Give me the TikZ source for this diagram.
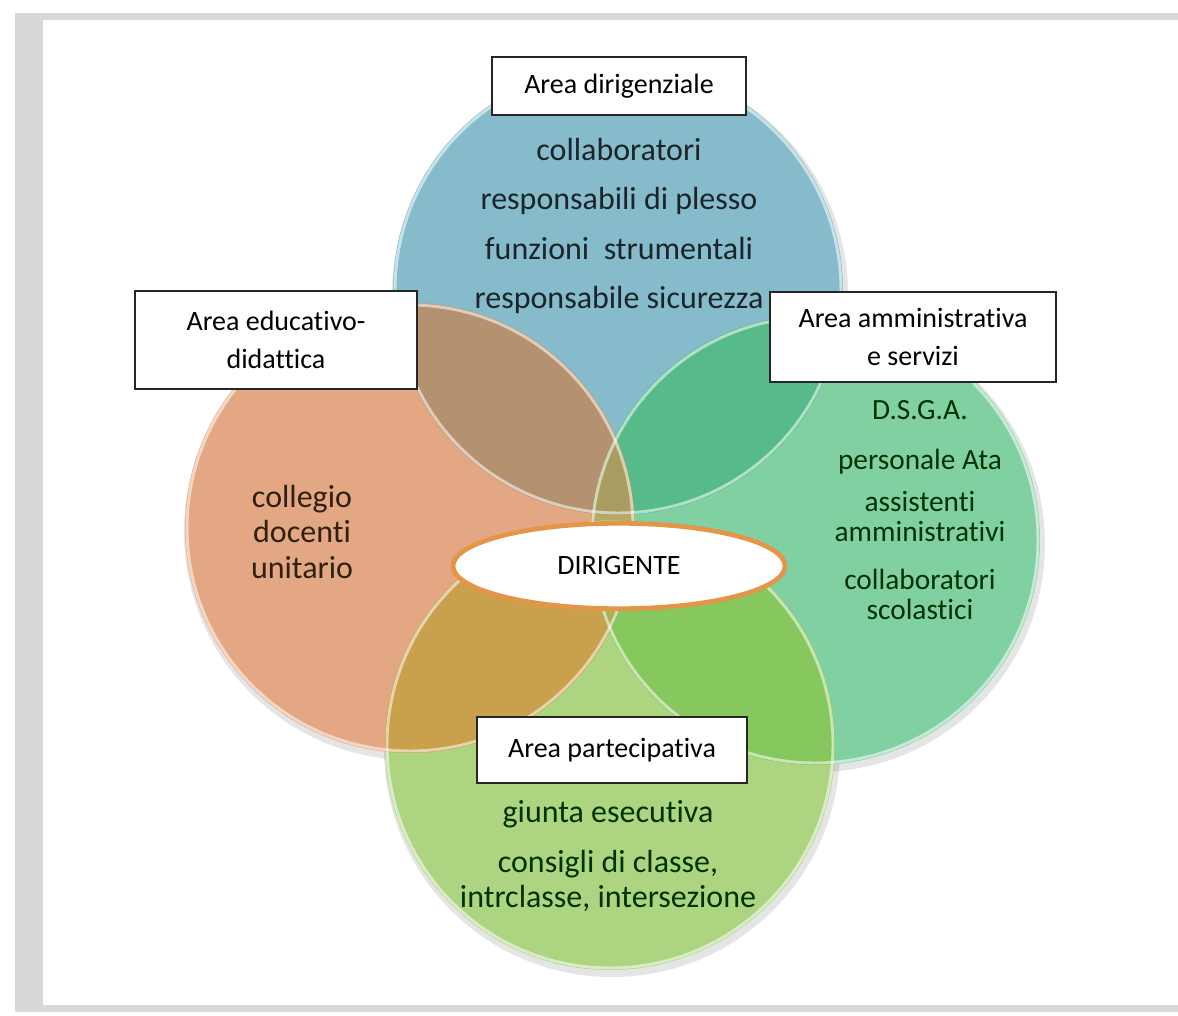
\documentclass[tikz,border=0pt]{standalone}
\usepackage{fontspec}
\setmainfont{Carlito}[RawFeature={-liga}]
\usetikzlibrary{shapes.geometric}

\definecolor{pagegray}{HTML}{D8D8D8}
\definecolor{cblue}{HTML}{86BBCB}
\definecolor{corange}{HTML}{E3A883}
\definecolor{cgreen}{HTML}{80D0A2}
\definecolor{clime}{HTML}{ADD581}
\definecolor{cbo}{HTML}{B4926F}
\definecolor{cbg}{HTML}{57BA8A}
\definecolor{col}{HTML}{C9A04C}
\definecolor{cgl}{HTML}{86C75E}
\definecolor{cog}{HTML}{B8A865}
\definecolor{cbog}{HTML}{A89C60}
\definecolor{cogl}{HTML}{A8B050}
\definecolor{bossline}{HTML}{E59548}

\tikzstyle{area}=[draw=black!85, line width=1.3pt, fill=white, align=center, inner sep=0pt, font=\fontsize{21}{28}\selectfont]
\tikzstyle{items}=[align=center, inner sep=0pt, font=\fontsize{24}{37}\selectfont]
\tikzstyle{ring}=[white, opacity=0.55, line width=2.2pt]
\tikzstyle{boss}=[ellipse, draw=bossline, line width=3.5pt, fill=white, inner sep=0pt, font=\fontsize{21}{25}\selectfont]

\begin{document}
\begin{tikzpicture}[x=0.75pt, y=-0.75pt]
  \useasboundingbox (0,0) rectangle (1178,1016);
  % page
  \fill[pagegray] (15,13) rectangle (1178,1012);
  \fill[white] (43,20) rectangle (1178,1005);

  \coordinate (top) at (618,290);
  \coordinate (left) at (410,528);
  \coordinate (right) at (815,540);
  \coordinate (bottom) at (610,745);

  % shadows
  \foreach \c in {top,left,right,bottom}
    \fill[black, opacity=0.10] ([shift={(2,4)}]\c) circle[radius=228];

  \fill[cblue] (top) circle[radius=225];
  \fill[corange] (left) circle[radius=225];
  \fill[cgreen] (right) circle[radius=225];
  \fill[clime] (bottom) circle[radius=225];

  % overlaps
  \begin{scope}
    \clip (left) circle[radius=225];
    \fill[cog] (right) circle[radius=225];
  \end{scope}
  \begin{scope}
    \clip (top) circle[radius=225];
    \fill[cbo] (left) circle[radius=225];
    \fill[cbg] (right) circle[radius=225];
    \clip (left) circle[radius=225];
    \fill[cbog] (right) circle[radius=225];
  \end{scope}
  \begin{scope}
    \clip (bottom) circle[radius=225];
    \fill[col] (left) circle[radius=225];
    \fill[cgl] (right) circle[radius=225];
    \clip (left) circle[radius=225];
    \fill[cogl] (right) circle[radius=225];
  \end{scope}

  \foreach \c in {top,left,right,bottom}
    \draw[ring] (\c) circle[radius=223];

  % contents
  \node[items, text={black!80!cblue}] (tDir) at (619,226)
    {collaboratori\\responsabili di plesso\\funzioni\ \ strumentali\\responsabile sicurezza};
  \node[items, text={black!75!brown}, font=\fontsize{24}{26.5}\selectfont] (tEdu) at (302,532)
    {collegio\\docenti\\unitario};
  \node[items, text={black!80!green}, font=\fontsize{22}{22.5}\selectfont] (tAmm) at (920,510)
    {D.S.G.A.\\[15pt]personale Ata\\[9pt]assistenti\\amministrativi\\[13pt]collaboratori\\scolastici};
  \node[items, text={black!80!green}, font=\fontsize{24}{26.5}\selectfont] (tPar) at (608,856)
    {giunta esecutiva\\[11pt]consigli di classe,\\intrclasse, intersezione};

  % labels
  \node[area, minimum width=191pt, minimum height=43pt] (nDir) at (619,86) {Area dirigenziale};
  \node[area, minimum width=211pt, minimum height=73pt] (nEdu) at (276,340) {Area educativo-\\didattica};
  \node[area, minimum width=215pt, minimum height=68pt] (nAmm) at (913,337) {Area amministrativa\\e servizi};
  \node[area, minimum width=202pt, minimum height=49pt] (nPar) at (612,750) {Area partecipativa};

  \node[boss, minimum width=249pt, minimum height=64pt] (boss) at (619,566) {DIRIGENTE};
\end{tikzpicture}
\end{document}
